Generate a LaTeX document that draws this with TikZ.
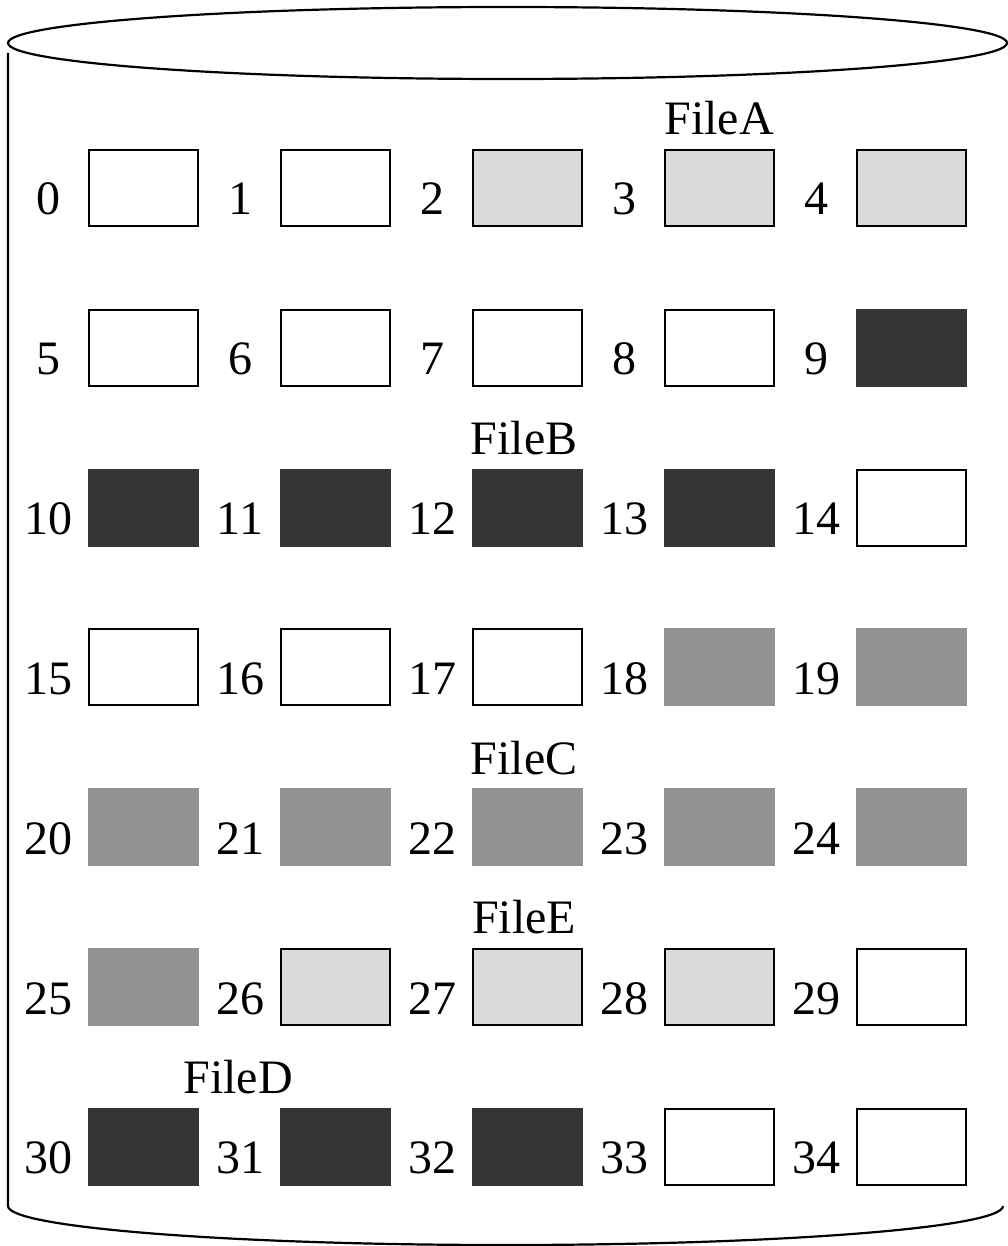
\documentclass[tikz,border=0pt]{standalone}
\usepackage{fontspec}
\setmainfont{Liberation Serif}
\definecolor{lightg}{HTML}{D9D9D9}
\definecolor{midg}{HTML}{929292}
\definecolor{darkg}{HTML}{353535}
\begin{document}
\begin{tikzpicture}[x=1pt,y=-1pt,
  blk/.style={rectangle, line width=2pt, inner sep=0pt, minimum width=109pt, minimum height=76pt},
  wbox/.style={blk, draw=black, fill=white},
  lbox/.style={blk, draw=black, fill=lightg},
  mbox/.style={blk, draw=midg, fill=midg},
  dbox/.style={blk, draw=darkg, fill=darkg},
  lab/.style={inner sep=0pt, anchor=base, font=\fontsize{48}{57}\selectfont},
  disk/.style={line width=2.2pt, draw=black}]
\useasboundingbox (0,0) rectangle (1008,1246);
% cylinder
\draw[disk] (507.5,43) ellipse [x radius=499.5, y radius=36];
\coordinate (tl) at (8,53);
\coordinate (bl) at (8,1206);
\draw[disk] (tl) -- (bl) arc [start angle=180, end angle=0, x radius=497.5, y radius=39];
% blocks
\foreach \n/\s in {0/wbox,1/wbox,2/lbox,3/lbox,4/lbox,
                   5/wbox,6/wbox,7/wbox,8/wbox,9/dbox,
                   10/dbox,11/dbox,12/dbox,13/dbox,14/wbox,
                   15/wbox,16/wbox,17/wbox,18/mbox,19/mbox,
                   20/mbox,21/mbox,22/mbox,23/mbox,24/mbox,
                   25/mbox,26/lbox,27/lbox,28/lbox,29/wbox,
                   30/dbox,31/dbox,32/dbox,33/wbox,34/wbox}{
  \pgfmathtruncatemacro\r{floor(\n/5)}
  \pgfmathtruncatemacro\c{mod(\n,5)}
  \node[\s] (b\n) at ({143.5+192*\c},{188+159.8*\r}) {};
  \node[lab] (l\n) at ({48+192*\c},{215+159.8*\r}) {\n};
}
% file labels
\node[lab] (fa) at (719,135) {FileA};
\node[lab] (fb) at (524,454.6) {FileB};
\node[lab] (fc) at (524,774.2) {FileC};
\node[lab] (fe) at (524,933.8) {FileE};
\node[lab] (fd) at (238,1093.4) {FileD};
\end{tikzpicture}
\end{document}
